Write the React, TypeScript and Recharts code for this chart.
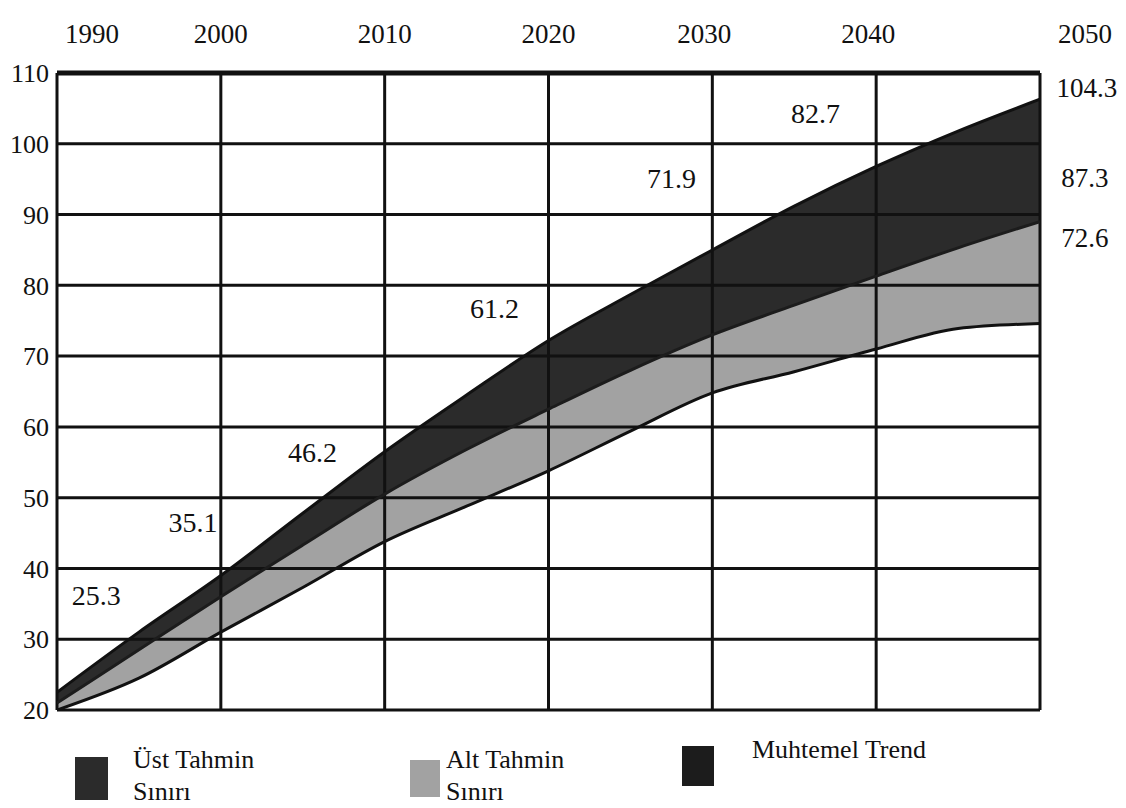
import React from 'react';
import {
  ComposedChart,
  Area,
  Line,
  XAxis,
  YAxis,
  ReferenceLine,
  ReferenceDot,
  Legend,
} from 'recharts';

// Projection values (every 5 years)
const years = [1990, 1995, 2000, 2005, 2010, 2015, 2020, 2025, 2030, 2035, 2040, 2045, 2050];
const upperLimit = [22.5, 31, 39, 47.8, 56.5, 64.5, 72.2, 78.7, 85, 91.2, 96.8, 101.8, 106.3];
const trendLine = [21, 28.5, 36, 43.3, 50.5, 56.8, 62.5, 68, 73, 77.2, 81.3, 85.3, 89];
const lowerLimit = [20, 24.5, 31, 37.3, 43.8, 48.8, 53.8, 59.4, 64.8, 67.8, 71, 73.9, 74.6];

const xTicks = [1990, 2000, 2010, 2020, 2030, 2040, 2050];
const yTicks = [20, 30, 40, 50, 60, 70, 80, 90, 100, 110];

// printed value labels inside the plot
const noteLabels = ['25.3', '35.1', '46.2', '61.2', '71.9', '82.7'];
const noteYears = [1992.4, 1998.3, 2005.6, 2016.7, 2027.5, 2036.3];
const noteValues = [36.2, 46.6, 56.4, 76.8, 95.1, 104.3];

// labels to the right of 2050
const endLabels = ['104.3', '87.3', '72.6'];
const endYears = [2051.0, 2051.3, 2051.3];
const endValues = [107.9, 95.3, 86.7];

const seriesNames = ['Üst Tahmin Sınırı', 'Alt Tahmin Sınırı', 'Muhtemel Trend'];

const data = years.map((year, i) => ({
  year,
  upper: upperLimit[i],
  trend: trendLine[i],
  lower: lowerLimit[i],
  upperBand: [trendLine[i], upperLimit[i]],
  lowerBand: [lowerLimit[i], trendLine[i]],
}));

const FONT = '"Liberation Serif", "DejaVu Serif", serif';
const DARK = '#2b2b2b';
const GRAY = '#a2a2a2';
const INK = '#111';

function TopTick(props: any) {
  const { x, y, payload } = props;
  const v = payload.value;
  const edge = v === 1990 || v === 2050;
  const dx = v === 1990 ? 8 : v === 2050 ? 18 : v >= 2030 ? -8 : 0;
  return (
    <text
      x={x + dx}
      y={y - 22}
      textAnchor={edge ? 'start' : 'middle'}
      fontFamily={FONT}
      fontSize={27}
      fill={INK}
    >
      {v}
    </text>
  );
}

const legendBoxes = [
  { left: 75, top: 47, w: 33, h: 43 },
  { left: 410, top: 50, w: 30, h: 37 },
  { left: 682, top: 36, w: 32, h: 40 },
];
const legendTextLeft = [133, 446, 752];

function LegendContent(props: any) {
  const items = (props.payload || []).filter((p: any) => p.type !== 'none');
  return (
    <div style={{ position: 'relative', width: 1126, height: 90, fontFamily: FONT, color: INK }}>
      {items.map((item: any) => {
        const i = seriesNames.indexOf(String(item.value));
        if (i < 0) return null;
        const box = legendBoxes[i];
        const words = String(item.value).split(' ');
        const lines = i < 2 ? [words.slice(0, 2).join(' '), words.slice(2).join(' ')] : [words.join(' ')];
        return (
          <React.Fragment key={i}>
            <div
              style={{
                position: 'absolute',
                left: box.left,
                top: box.top,
                width: box.w,
                height: box.h,
                background: item.color,
              }}
            />
            <div
              style={{
                position: 'absolute',
                left: legendTextLeft[i],
                top: i === 2 ? 24 : 34,
                fontSize: 26,
                lineHeight: '32px',
                whiteSpace: 'nowrap',
              }}
            >
              {lines.map((l, j) => (
                <div key={j}>{l}</div>
              ))}
            </div>
          </React.Fragment>
        );
      })}
    </div>
  );
}

export default function App() {
  return (
    <div style={{ position: 'absolute', left: 0, top: 0, width: 1126, height: 808, background: '#fff' }}>
      <ComposedChart
        width={1126}
        height={808}
        data={data}
        margin={{ top: 33, right: 86, left: 7, bottom: 8 }}
      >
        <XAxis
          dataKey="year"
          type="number"
          orientation="top"
          domain={[1990, 2050]}
          ticks={xTicks}
          height={40}
          axisLine={false}
          tickLine={false}
          tick={<TopTick />}
          allowDataOverflow
        />
        <YAxis
          type="number"
          domain={[20, 110]}
          ticks={yTicks}
          width={50}
          axisLine={false}
          tickLine={false}
          tickSize={0}
          tickMargin={8}
          tick={{ fontFamily: FONT, fontSize: 26, fill: INK }}
          allowDataOverflow
        />
        <Area
          dataKey="upperBand"
          name={seriesNames[0]}
          type="monotone"
          fill={DARK}
          fillOpacity={1}
          stroke="none"
          isAnimationActive={false}
        />
        <Area
          dataKey="lowerBand"
          name={seriesNames[1]}
          type="monotone"
          fill={GRAY}
          fillOpacity={1}
          stroke="none"
          isAnimationActive={false}
        />
        {yTicks.map((v) => (
          <ReferenceLine key={`h${v}`} y={v} stroke={INK} strokeWidth={v === 110 ? 5 : 3} />
        ))}
        {xTicks.map((v) => (
          <ReferenceLine key={`v${v}`} x={v} stroke={INK} strokeWidth={3} />
        ))}
        <Line
          dataKey="upper"
          type="monotone"
          stroke={INK}
          strokeWidth={3}
          dot={false}
          legendType="none"
          isAnimationActive={false}
        />
        <Line
          dataKey="trend"
          name={seriesNames[2]}
          type="monotone"
          stroke="#1c1c1c"
          strokeWidth={3}
          dot={false}
          isAnimationActive={false}
        />
        <Line
          dataKey="lower"
          type="monotone"
          stroke={INK}
          strokeWidth={3}
          dot={false}
          legendType="none"
          isAnimationActive={false}
        />
        {noteLabels.map((label, i) => (
          <ReferenceDot
            key={`n${i}`}
            x={noteYears[i]}
            y={noteValues[i]}
            r={0}
            fill="none"
            stroke="none"
            label={{ value: label, position: 'center', fontFamily: FONT, fontSize: 28, fill: INK }}
          />
        ))}
        {endLabels.map((label, i) => (
          <ReferenceDot
            key={`e${i}`}
            x={endYears[i]}
            y={endValues[i]}
            r={0}
            fill="none"
            stroke="none"
            ifOverflow="visible"
            label={{ value: label, position: 'right', offset: 0, fontFamily: FONT, fontSize: 27, fill: INK }}
          />
        ))}
        <Legend verticalAlign="bottom" content={<LegendContent />} wrapperStyle={{ left: 0, width: 1126 }} />
      </ComposedChart>
    </div>
  );
}
